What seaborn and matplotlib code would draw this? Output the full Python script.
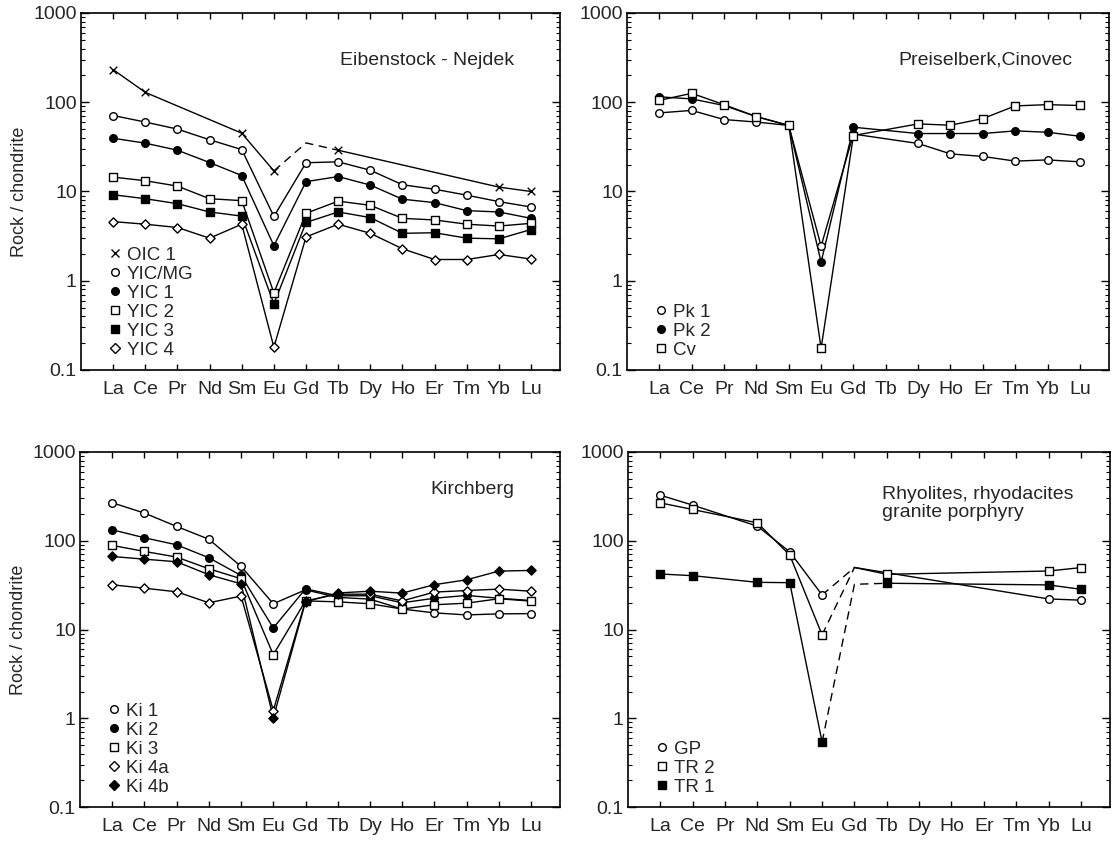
import numpy as np
import pandas as pd
import seaborn as sns
import matplotlib.pyplot as plt
from matplotlib.lines import Line2D
from matplotlib.ticker import LogLocator, FixedLocator, FuncFormatter

nan = np.nan
ree = ['La', 'Ce', 'Pr', 'Nd', 'Sm', 'Eu', 'Gd', 'Tb', 'Dy', 'Ho', 'Er', 'Tm', 'Yb', 'Lu']

# Eibenstock - Nejdek
oic1 = [232, 129, nan, nan, 45, 17, 35, 29, nan, nan, nan, nan, 11.2, 10.0]
yic_mg = [71, 60, 50, 38, 29.5, 5.25, 21, 21.5, 17.3, 11.9, 10.6, 9.1, 7.7, 6.7]
yic1 = [39.5, 34.8, 29, 21.1, 15.1, 2.47, 12.9, 14.7, 11.8, 8.2, 7.5, 6.1, 5.9, 5.0]
yic2 = [14.5, 13.2, 11.5, 8.3, 7.9, 0.73, 5.7, 7.8, 7.0, 5.0, 4.8, 4.3, 4.1, 4.4]
yic3 = [9.2, 8.3, 7.3, 5.9, 5.3, 0.55, 4.5, 5.9, 5.1, 3.4, 3.45, 3.0, 2.95, 3.75]
yic4 = [4.6, 4.3, 3.95, 3.0, 4.3, 0.18, 3.1, 4.3, 3.4, 2.28, 1.73, 1.73, 1.97, 1.75]

# Preiselberk, Cinovec
pk1 = [76, 81, 64, 60, 55, 2.44, 44, nan, 34.5, 26.4, 24.7, 21.9, 22.6, 21.5]
pk2 = [115, 109, 92, 69, 55, 1.62, 52.5, nan, 44.6, 44.6, 44.6, 47.8, 46.1, 41.6]
cv = [105, 126, 94, 69, 55, 0.175, 42.4, nan, 57.2, 55.3, 65.6, 91, 94, 92]

# Kirchberg
ki1 = [268, 205, 145, 104, 51.4, 19.5, 28, 23, 22, 17, 15.4, 14.6, 15.0, 15.1]
ki2 = [133, 108, 90, 64.3, 40.6, 10.4, 28.7, 24, 24, 20, 22.5, 24.2, 22.5, 21.2]
ki3 = [88.6, 75.8, 65.5, 48.3, 37.3, 5.2, 21, 20.5, 19.5, 17, 19, 19.8, 22.2, 20.9]
ki4a = [31.9, 29.2, 26.6, 20, 23.8, 1.22, 21, 25, 25, 21, 26.4, 27.5, 28.5, 27]
ki4b = [66.5, 62, 58, 41.4, 32.7, 1.01, 20.5, 25.8, 27, 25.7, 32, 36.3, 45.5, 46.3]

# Rhyolites, rhyodacites, granite porphyry
gp = [326, 252, nan, 146, 75, 24.5, 50, nan, nan, nan, nan, nan, 22.1, 21.4]
tr2 = [267, 225, nan, 159, 69, 8.7, 50, 41.9, nan, nan, nan, nan, 45.6, 49.8]
tr1 = [42.2, 40.4, nan, 34, 33.7, 0.54, 32.3, 33.2, nan, nan, nan, nan, 31.8, 28.4]

sns.set_theme(style='ticks')
plt.rcParams['font.family'] = ['Liberation Sans', 'DejaVu Sans']
plt.rcParams['axes.linewidth'] = 1.2

MK = {'x': ('x', 'black', 30), 'o': ('o', 'white', 30), 'of': ('o', 'black', 30),
      's': ('s', 'white', 30), 'sf': ('s', 'black', 30), 'D': ('D', 'white', 22),
      'Df': ('D', 'black', 22)}


def draw(ax, vals, mk, dash=None, nomark=()):
    x = np.arange(len(ree))
    y = np.array(vals, dtype=float)
    ok = ~np.isnan(y)
    if dash is None:
        parts = [(ok, '-')]
    else:
        i0, i1 = dash
        parts = [(ok & (x <= i0), '-'), (ok & (x >= i1), '-'),
                 (ok & (x >= i0) & (x <= i1), (0, (6, 4)))]
    for m, ls in parts:
        if m.sum() > 1:
            sns.lineplot(x=x[m], y=y[m], ax=ax, color='black', lw=1,
                         linestyle=ls, estimator=None, sort=False, zorder=2)
    mm = ok.copy()
    for i in nomark:
        mm[i] = False
    marker, face, s = MK[mk]
    if marker == 'x':
        sns.scatterplot(x=x[mm], y=y[mm], ax=ax, marker='x', color='black',
                        s=s, linewidth=1, zorder=3, legend=False)
    else:
        sns.scatterplot(x=x[mm], y=y[mm], ax=ax, marker=marker, color=face,
                        edgecolor='black', s=s, linewidth=1, zorder=3, legend=False)


def legend(ax, labels, mks):
    handles = []
    for lab, mk in zip(labels, mks):
        marker, face, s = MK[mk]
        handles.append(Line2D([], [], ls='none', marker=marker, markersize=5.5,
                              markerfacecolor=face, markeredgecolor='black',
                              color='black', markeredgewidth=1, label=lab))
    ax.legend(handles=handles, loc='lower left', bbox_to_anchor=(0.035, 0.0),
              frameon=False, fontsize=13.5, handlelength=0.6, handletextpad=0.35,
              labelspacing=0.1, borderaxespad=0.2)


def style(ax, ylabel):
    ax.set_yscale('log')
    ax.set_ylim(0.1, 1000)
    ax.set_xlim(-1.0, 13.9)
    ax.xaxis.set_major_locator(FixedLocator(range(len(ree))))
    ax.set_xticklabels(ree, fontsize=14)
    ax.yaxis.set_major_locator(LogLocator(base=10, numticks=10))
    ax.yaxis.set_minor_locator(LogLocator(base=10, subs=np.arange(2, 10), numticks=10))
    ax.yaxis.set_major_formatter(FuncFormatter(lambda v, p: '%g' % v))
    ax.tick_params(axis='y', labelsize=14)
    ax.tick_params(axis='both', which='both', direction='in', top=True, right=True,
                   color='black')
    ax.tick_params(axis='x', which='major', length=4, width=1, pad=8)
    ax.tick_params(axis='y', which='major', length=6, width=1, pad=3)
    ax.tick_params(axis='y', which='minor', length=3, width=0.8)
    ax.set_xlabel('')
    ax.set_ylabel(ylabel, fontsize=13)
    for sp in ax.spines.values():
        sp.set_color('black')


fig = plt.figure(figsize=(11.12, 8.41), dpi=100)
W, H = 1112, 841
def box(l, r, t, b):
    return [l / W, 1 - b / H, (r - l) / W, (b - t) / H]

ax1 = fig.add_axes(box(81, 560, 13, 370))
ax2 = fig.add_axes(box(627, 1109, 13, 370))
ax3 = fig.add_axes(box(80, 560, 452, 807))
ax4 = fig.add_axes(box(628, 1110, 452, 807))

# panel 1
draw(ax1, oic1, 'x', dash=(5, 7), nomark=(6,))
draw(ax1, yic_mg, 'o')
draw(ax1, yic1, 'of')
draw(ax1, yic2, 's')
draw(ax1, yic3, 'sf')
draw(ax1, yic4, 'D')
style(ax1, 'Rock / chondrite')
ax1.text(0.905, 0.868, 'Eibenstock - Nejdek', transform=ax1.transAxes,
         ha='right', va='center', fontsize=14)
legend(ax1, ['OIC 1', 'YIC/MG', 'YIC 1', 'YIC 2', 'YIC 3', 'YIC 4'],
       ['x', 'o', 'of', 's', 'sf', 'D'])

# panel 2
draw(ax2, pk1, 'o')
draw(ax2, pk2, 'of')
draw(ax2, cv, 's')
style(ax2, '')
ax2.text(0.925, 0.868, 'Preiselberk,Cinovec', transform=ax2.transAxes,
         ha='right', va='center', fontsize=14)
legend(ax2, ['Pk 1', 'Pk 2', 'Cv'], ['o', 'of', 's'])

# panel 3
draw(ax3, ki1, 'o')
draw(ax3, ki2, 'of')
draw(ax3, ki3, 's')
draw(ax3, ki4a, 'D')
draw(ax3, ki4b, 'Df')
style(ax3, 'Rock / chondrite')
ax3.text(0.905, 0.893, 'Kirchberg', transform=ax3.transAxes,
         ha='right', va='center', fontsize=14)
legend(ax3, ['Ki 1', 'Ki 2', 'Ki 3', 'Ki 4a', 'Ki 4b'], ['o', 'of', 's', 'D', 'Df'])

# panel 4
draw(ax4, gp, 'o', dash=(5, 6), nomark=(6,))
draw(ax4, tr2, 's', dash=(5, 6), nomark=(6,))
draw(ax4, tr1, 'sf', dash=(5, 7), nomark=(6,))
style(ax4, '')
ax4.text(0.527, 0.855, 'Rhyolites, rhyodacites\ngranite porphyry',
         transform=ax4.transAxes, ha='left', va='center', fontsize=14,
         linespacing=1.05)
legend(ax4, ['GP', 'TR 2', 'TR 1'], ['o', 's', 'sf'])

fig.savefig('out.png', dpi=100)
